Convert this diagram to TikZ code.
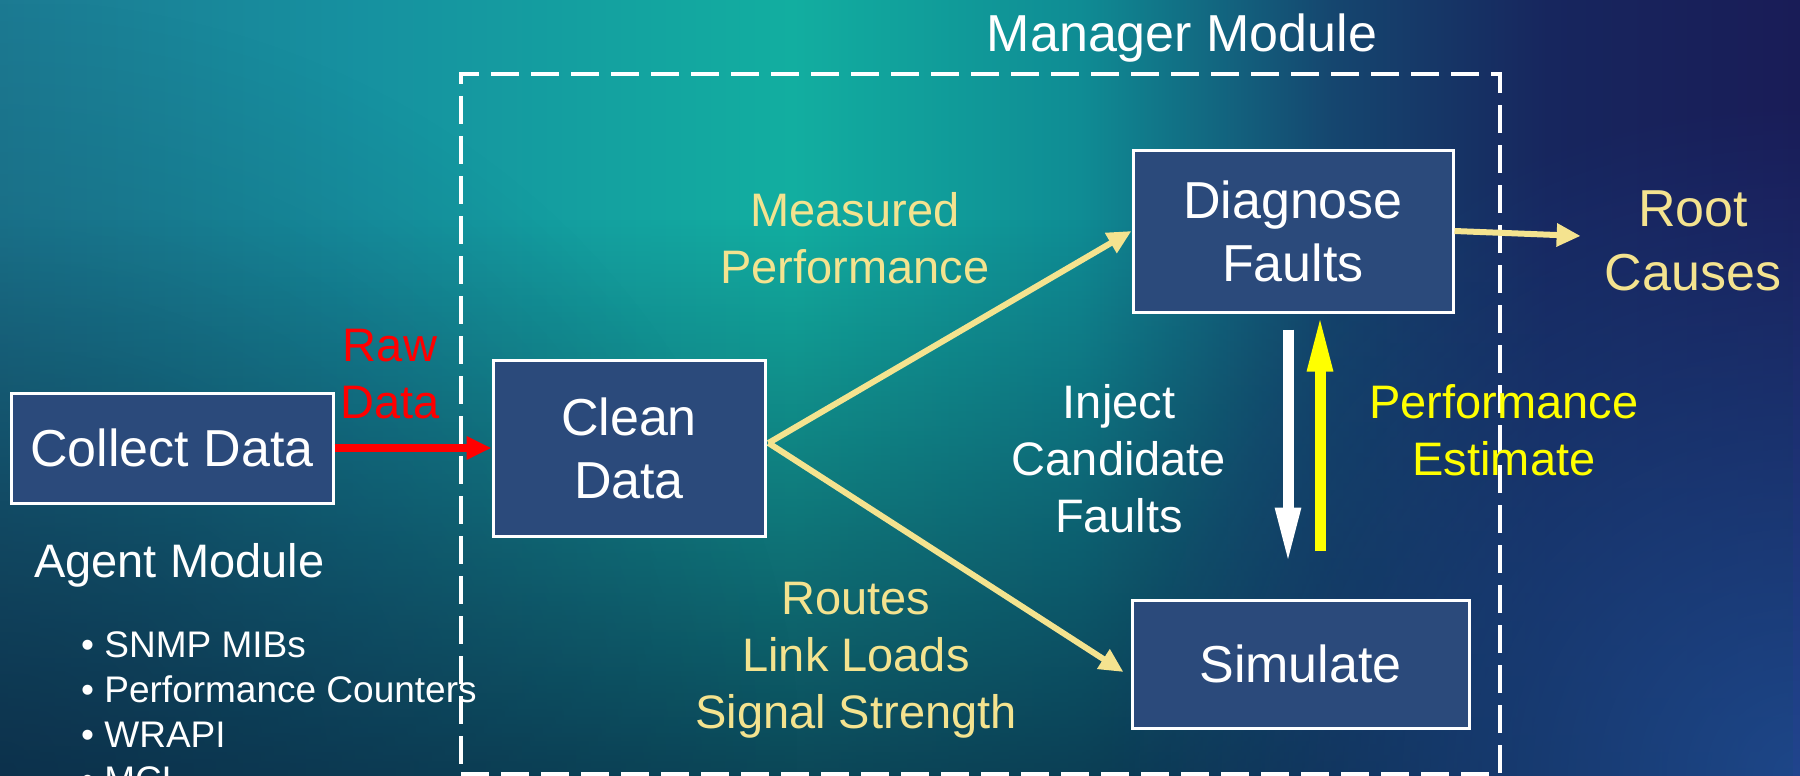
\documentclass[tikz,border=0pt]{standalone}
\usepackage{fontspec}
\setmainfont{Liberation Sans}
\usetikzlibrary{arrows.meta,calc,fadings}

\definecolor{boxblue}{HTML}{2B4A7B}
\definecolor{paleyel}{HTML}{F4E38F}
\definecolor{brightyel}{HTML}{FFFF00}
\definecolor{bgA}{HTML}{1C7A92}
\definecolor{bgB}{HTML}{1691A0}
\definecolor{bgC}{HTML}{12AEA0}
\definecolor{bgD}{HTML}{0F8C94}
\definecolor{bgE}{HTML}{15466F}
\definecolor{bgF}{HTML}{17265E}
\definecolor{bgG}{HTML}{191C57}
\definecolor{bgdark}{HTML}{0A2540}
\definecolor{glowblue}{HTML}{2456A5}

% left-to-right colour sweep of the backdrop
\pgfdeclarehorizontalshading{backdrop}{100bp}{%
  color(0bp)=(bgA); color(25bp)=(bgA); color(35bp)=(bgB); color(47bp)=(bgC);
  color(55bp)=(bgD); color(62bp)=(bgE); color(68bp)=(bgF); color(75bp)=(bgG);
  color(100bp)=(bgG)}
\tikzfading[name=fadebottom, top color=transparent!100, bottom color=transparent!0]
\tikzfading[name=glowfade, inner color=transparent!30, outer color=transparent!100]

\newcommand\fsz[2]{\fontsize{#1}{#2}\selectfont}

\tikzset{
  stepbox/.style={draw=white, line width=3pt, fill=boxblue, text=white,
    inner sep=0pt, align=center, font=\fsz{52}{63}},
  lbl/.style={inner sep=0pt, align=center, anchor=base, font=\fsz{47}{57}},
  biglbl/.style={lbl, font=\fsz{52}{64}},
  frame/.style={draw=white, line width=4pt, dash pattern=on 28pt off 12pt,
    inner sep=0pt},
  redarrow/.style={draw=red, line width=8pt, -{Triangle[length=25pt,width=22pt]}},
  palearrow/.style={draw=paleyel, line width=6pt, -{Triangle[length=24pt,width=22pt]}},
  whitearrow/.style={draw=white, line width=11pt, -{Triangle[length=58pt,width=23pt]}},
  yelarrow/.style={draw=brightyel, line width=11pt, -{Triangle[length=58pt,width=23pt]}},
}

\begin{document}
\begin{tikzpicture}[x=1pt, y=-1pt]
  \useasboundingbox (0,0) rectangle (1800,776);
  \clip (0,0) rectangle (1800,776);

  % backdrop
  \fill[shading=backdrop] (0,0) rectangle (1800,776);
  \fill[bgdark, opacity=0.75, path fading=fadebottom] (0,220) rectangle (1800,776);
  \fill[bgdark, opacity=0.6, path fading=glowfade] (-800,0) rectangle (800,1550);
  \fill[glowblue, path fading=glowfade] (1100,100) rectangle (2500,1450);

  % manager module frame
  \node[frame, minimum width=1039pt, minimum height=700pt] (mgr) at (980.5,424) {};
  \node[biglbl, text=white] (mgrtitle) at (1182,52) {Manager Module};

  % processing steps
  \node[stepbox, minimum width=322pt, minimum height=110pt] (cd) at (172,448) {Collect Data};
  \node[stepbox, minimum width=272pt, minimum height=176pt] (cl) at (629,448) {Clean\\Data};
  \node[stepbox, minimum width=320pt, minimum height=162pt] (dg) at (1293,231) {Diagnose\\Faults};
  \node[stepbox, minimum width=337pt, minimum height=128pt] (sm) at (1300.5,664) {Simulate};

  % labels (anchored at the baseline of their last line)
  \node[lbl, text=red] (raw) at (390,418) {Raw\\Data};
  \node[lbl, text=paleyel] (meas) at (855,283) {Measured\\Performance};
  \node[lbl, text=paleyel] (routes) at (856,728) {Routes\\Link Loads\\Signal Strength};
  \node[lbl, text=white] (inject) at (1119,532) {Inject\\Candidate\\Faults};
  \node[lbl, text=brightyel] (perfest) at (1504,475) {Performance\\Estimate};
  \node[biglbl, text=paleyel] (rc) at (1693,290) {Root\\Causes};

  % agent module
  \node[lbl, text=white, anchor=base west] (agent) at (34,577) {Agent Module};
  \node[inner sep=0pt, align=left, anchor=base west, text=white, font=\fsz{37}{45}]
    (sources) at (81,792)
    {\textbullet\ SNMP MIBs\\\textbullet\ Performance Counters\\\textbullet\ WRAPI\\\textbullet\ MCL};

  % connectors
  \draw[redarrow] (cd.east) -- (cl.west);
  \draw[palearrow] ($(cl.east)+(2,-5)$) -- (dg.west);
  \draw[palearrow] ($(cl.east)+(2,-5)$) -- ($(sm.west)+(-7,8)$);
  \draw[palearrow, shorten >=24pt] (dg.east) -- (rc);
  \draw[whitearrow] ($(dg.south)+(-5,16)$) -- ($(dg.south |- sm.north)+(-5,-33)$);
  \draw[yelarrow] ($(dg.south |- sm.north)+(27,-48)$) -- ($(dg.south)+(27,0)$);
\end{tikzpicture}
\end{document}
